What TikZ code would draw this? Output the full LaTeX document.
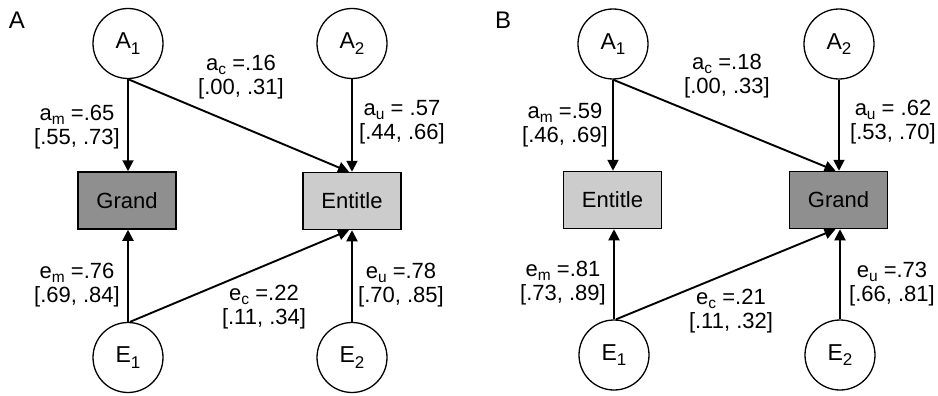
\documentclass[tikz,border=0pt]{standalone}
\usepackage{fontspec}
\setmainfont{Liberation Sans}
\usetikzlibrary{arrows.meta}
\definecolor{darkbox}{HTML}{8F8F8F}
\definecolor{lightbox}{HTML}{CCCCCC}
\tikzset{
  latent/.style={circle,draw,line width=1.3pt,minimum size=70pt,inner sep=0pt,font=\fontsize{23}{25}\selectfont},
  manifest/.style={rectangle,draw,line width=1.5pt,minimum width=98pt,minimum height=57pt,inner sep=0pt,font=\fontsize{22}{24}\selectfont},
  path/.style={line width=1.9pt,-{Triangle[length=11pt,width=11pt]}},
  lbl/.style={align=center,inner sep=0pt,font=\fontsize{22}{23.5}\selectfont},
  panel/.style={inner sep=0pt,font=\fontsize{24}{26}\selectfont}
}
\newcommand{\sbs}[1]{\raisebox{-0.16em}{\fontsize{15.5}{15.5}\selectfont #1}}
\newcommand{\sbsbig}[1]{\raisebox{-0.25em}{\fontsize{17}{17}\selectfont #1}}
\begin{document}
\begin{tikzpicture}[x=1pt,y=-1pt]
\useasboundingbox (0,0) rectangle (938,396);
% Panel A
\node[panel] (labA) at (17,20) {A};
\node[latent] (aA1) at (128,43.5) {A\sbsbig{1}};
\node[latent] (aA2) at (352,43.5) {A\sbsbig{2}};
\node[manifest,fill=darkbox] (aG) at (127,200.5) {Grand};
\node[manifest,fill=lightbox] (aE) at (352,201) {Entitle};
\node[latent] (aE1) at (128,357.5) {E\sbsbig{1}};
\node[latent] (aE2) at (352,357.5) {E\sbsbig{2}};
\draw[path] (aA1.south) -- (aA1.south |- aG.north);
\draw[path] (aA1.south) -- ([xshift=-3pt]aE.north);
\draw[path] (aA2.south) -- (aA2.south |- aE.north);
\draw[path] (aE1.north) -- (aE1.north |- aG.south);
\draw[path] ([xshift=2pt]aE1.north) -- ([xshift=-3pt]aE.south);
\draw[path] (aE2.north) -- (aE2.north |- aE.south);
\node[lbl] (aam) at (77,127) {a\sbs{m} =.65\\{}[.55, .73]};
\node[lbl] (aac) at (241,77) {a\sbs{c} =.16\\{}[.00, .31]};
\node[lbl] (aau) at (402,122) {a\sbs{u} = .57\\{}[.44, .66]};
\node[lbl] (aem) at (77,285) {e\sbs{m} =.76\\{}[.69, .84]};
\node[lbl] (aec) at (264,307) {e\sbs{c} =.22\\{}[.11, .34]};
\node[lbl] (aeu) at (401,285) {e\sbs{u} =.78\\{}[.70, .85]};
% Panel B
\node[panel] (labB) at (503,20) {B};
\node[latent] (bA1) at (613,44) {A\sbsbig{1}};
\node[latent] (bA2) at (839,44) {A\sbsbig{2}};
\node[manifest,fill=lightbox] (bE) at (612.5,200) {Entitle};
\node[manifest,fill=darkbox] (bG) at (838.5,200) {Grand};
\node[latent] (bE1) at (614,355) {E\sbsbig{1}};
\node[latent] (bE2) at (840,355) {E\sbsbig{2}};
\draw[path] (bA1.south) -- (bA1.south |- bE.north);
\draw[path] (bA1.south) -- ([xshift=-3pt]bG.north);
\draw[path] (bA2.south) -- (bA2.south |- bG.north);
\draw[path] (bE1.north) -- (bE1.north |- bE.south);
\draw[path] ([xshift=2pt]bE1.north) -- ([xshift=-3pt]bG.south);
\draw[path] (bE2.north) -- (bE2.north |- bG.south);
\node[lbl] (bam) at (565,125) {a\sbs{m} =.59\\{}[.46, .69]};
\node[lbl] (bac) at (727,76) {a\sbs{c} =.18\\{}[.00, .33]};
\node[lbl] (bau) at (893,122) {a\sbs{u} = .62\\{}[.53, .70]};
\node[lbl] (bem) at (563,283) {e\sbs{m} =.81\\{}[.73, .89]};
\node[lbl] (bec) at (731,311) {e\sbs{c} =.21\\{}[.11, .32]};
\node[lbl] (beu) at (892,284) {e\sbs{u} =.73\\{}[.66, .81]};
\end{tikzpicture}
\end{document}
